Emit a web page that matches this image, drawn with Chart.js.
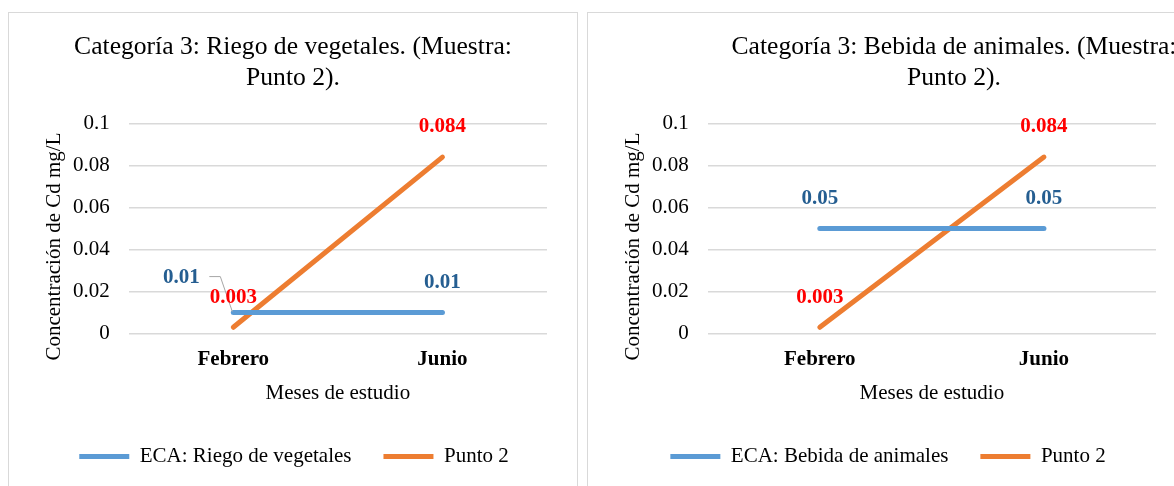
<!DOCTYPE html>
<html>
<head>
<meta charset="utf-8">
<script src="https://cdn.jsdelivr.net/npm/chart.js@4"></script>
<style>
  html, body { margin: 0; padding: 0; background: #fff; overflow: hidden; width: 1174px; height: 486px; }
  .box { position: absolute; top: 12px; height: 500px; border: 1px solid #d9d9d9; background: #fff; }
  #boxLeft { left: 8px; width: 568px; }
  #boxRight { left: 587px; width: 596px; }
  canvas { display: block; }
</style>
</head>
<body>
<div class="box" id="boxLeft"><canvas id="chartLeft" width="568" height="464"></canvas></div>
<div class="box" id="boxRight"><canvas id="chartRight" width="596" height="464"></canvas></div>
<script>
const months = ['Febrero', 'Junio'];
const yTicks = ['0', '0.02', '0.04', '0.06', '0.08', '0.1'];
const ecaRiego = [0.01, 0.01];
const ecaBebida = [0.05, 0.05];
const punto2Riego = [0.003, 0.084];
const punto2Bebida = [0.003, 0.084];

const FONT = "'Liberation Serif', 'Times New Roman', serif";
const BLUE = '#5B9BD5';
const ORANGE = '#ED7D31';
const LABEL_BLUE = '#255E91';
const LABEL_RED = '#FF0000';
const GRID = '#D9D9D9';

// etiquetas de valor encima de cada punto
const valueLabels = {
  id: 'valueLabels',
  afterDatasetsDraw(chart, args, opts) {
    const ctx = chart.ctx;
    ctx.save();
    ctx.font = `bold 21px ${FONT}`;
    ctx.textAlign = 'center';
    ctx.textBaseline = 'middle';
    chart.data.datasets.forEach((ds, i) => {
      const meta = chart.getDatasetMeta(i);
      meta.data.forEach((pt, j) => {
        let x = pt.x;
        let y = pt.y - 30;
        const moved = (opts.moved || []).find((m) => m.dataset === i && m.index === j);
        if (moved) {
          x = pt.x + moved.dx;
          y = pt.y + moved.dy;
          // linea guia hacia el punto
          ctx.strokeStyle = '#A6A6A6';
          ctx.lineWidth = 1;
          ctx.beginPath();
          ctx.moveTo(pt.x - 24, pt.y - 36);
          ctx.lineTo(pt.x - 13, pt.y - 36);
          ctx.lineTo(pt.x - 1, pt.y - 1);
          ctx.stroke();
        }
        ctx.fillStyle = ds.labelColor;
        ctx.fillText(String(ds.data[j]), x, y);
      });
    });
    ctx.restore();
  },
};

// corre el titulo y la leyenda hacia la derecha
const boxShift = {
  id: 'boxShift',
  afterLayout(chart, args, opts) {
    if (opts.titleDx && chart.titleBlock) {
      chart.titleBlock.left += opts.titleDx;
      chart.titleBlock.right += opts.titleDx;
    }
    if (opts.legendDx && chart.legend) {
      chart.legend.left += opts.legendDx;
      chart.legend.right += opts.legendDx;
    }
  },
};

// titulo del eje y (un poco mas abajo que el centro del area)
const yTitle = {
  id: 'yTitle',
  afterDraw(chart, args, opts) {
    const ctx = chart.ctx;
    const area = chart.chartArea;
    ctx.save();
    ctx.translate(area.left - opts.gap, (area.top + area.bottom) / 2 + opts.dy);
    ctx.rotate(-Math.PI / 2);
    ctx.font = `21px ${FONT}`;
    ctx.fillStyle = '#000';
    ctx.textAlign = 'center';
    ctx.textBaseline = 'middle';
    ctx.fillText(opts.text, 0, 0);
    ctx.restore();
  },
};

function makeChart(canvas, titleText, ecaName, ecaData, puntoData, extra) {
  return new Chart(canvas, {
    type: 'line',
    data: {
      labels: months,
      datasets: [
        {
          label: ecaName,
          data: ecaData,
          borderColor: BLUE,
          backgroundColor: BLUE,
          borderWidth: 5,
          borderCapStyle: 'round',
          pointRadius: 0,
          tension: 0,
          labelColor: LABEL_BLUE,
        },
        {
          label: 'Punto 2',
          data: puntoData,
          borderColor: ORANGE,
          backgroundColor: ORANGE,
          borderWidth: 5,
          borderCapStyle: 'round',
          pointRadius: 0,
          tension: 0,
          labelColor: LABEL_RED,
        },
      ],
    },
    options: {
      responsive: false,
      animation: false,
      layout: { padding: { left: 14, right: extra.padRight, top: 6, bottom: 0 } },
      scales: {
        x: {
          offset: true,
          grid: { display: false },
          border: { display: false },
          ticks: { font: { family: FONT, size: 21, weight: 'bold' }, color: '#000', padding: 5 },
          title: {
            display: true,
            text: 'Meses de estudio',
            font: { family: FONT, size: 21 },
            color: '#000',
            padding: { top: 4, bottom: 8 },
          },
        },
        y: {
          min: 0,
          max: 0.1,
          ticks: {
            stepSize: 0.02,
            font: { family: FONT, size: 21 },
            color: '#000',
            padding: 19,
            callback: (v, i) => yTicks[i],
          },
          grid: { color: GRID, lineWidth: 1.5, drawTicks: false },
          border: { display: false },
          afterFit(scale) {
            scale.width += 31;
          },
        },
      },
      plugins: {
        title: {
          display: true,
          text: titleText,
          font: { family: FONT, size: 25.6, weight: 'normal', lineHeight: 1.2 },
          color: '#000',
          padding: { top: 13, bottom: 30 },
        },
        legend: {
          position: 'bottom',
          labels: {
            usePointStyle: true,
            pointStyle: 'line',
            pointStyleWidth: 50,
            font: { family: FONT, size: 21 },
            color: '#000',
            padding: 32,
          },
        },
        tooltip: { enabled: false },
        valueLabels: { moved: extra.moved },
        boxShift: { titleDx: extra.titleDx, legendDx: 9 },
        yTitle: { text: 'Concentración de Cd mg/L', dy: 18, gap: 74.5 },
      },
    },
    plugins: [valueLabels, boxShift, yTitle],
  });
}

makeChart(
  document.getElementById('chartLeft'),
  ['Categoría 3: Riego de vegetales. (Muestra:', 'Punto 2).'],
  'ECA: Riego de vegetales',
  ecaRiego,
  punto2Riego,
  { padRight: 30, titleDx: 8, moved: [{ dataset: 0, index: 0, dx: -52, dy: -35 }] }
);

makeChart(
  document.getElementById('chartRight'),
  ['Categoría 3: Bebida de animales. (Muestra:', 'Punto 2).'],
  'ECA: Bebida de animales',
  ecaBebida,
  punto2Bebida,
  { padRight: 28, titleDx: 75, moved: [] }
);
</script>
</body>
</html>
